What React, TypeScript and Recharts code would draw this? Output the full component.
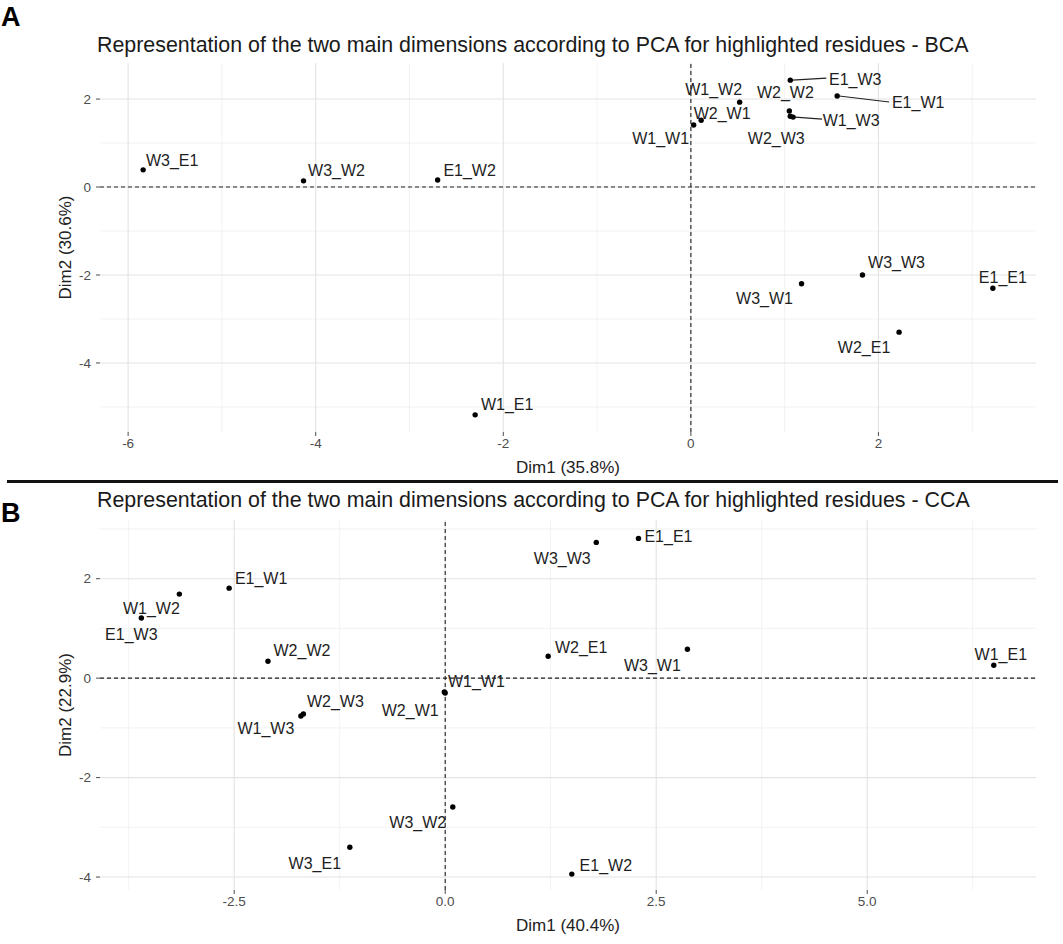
import React from 'react';
import { ScatterChart, Scatter, XAxis, YAxis, CartesianGrid, ReferenceLine } from 'recharts';

const FONT = '"Liberation Sans", Arial, Helvetica, sans-serif';

// Panel A - BCA
const bcaNames = ['W3_E1', 'W3_W2', 'E1_W2', 'W1_E1', 'W3_W1', 'W3_W3', 'E1_E1', 'W2_E1', 'E1_W3', 'E1_W1', 'W1_W2', 'W2_W1', 'W1_W1', 'W2_W2', 'W1_W3', 'W2_W3'];
const bcaDim1 = [-5.84, -4.13, -2.7, -2.3, 1.18, 1.83, 3.22, 2.22, 1.06, 1.56, 0.52, 0.11, 0.03, 1.05, 1.09, 1.06];
const bcaDim2 = [0.39, 0.14, 0.16, -5.18, -2.2, -2.0, -2.3, -3.3, 2.43, 2.07, 1.93, 1.52, 1.41, 1.73, 1.59, 1.61];
const bcaXTicks = [-6, -4, -2, 0, 2];
const bcaXMinor = [-5, -3, -1, 1, 3];
const bcaYTicks = [-4, -2, 0, 2];
const bcaYMinor = [-5, -3, -1, 1];

// Panel B - CCA
const ccaNames = ['E1_W1', 'W1_W2', 'E1_W3', 'W2_W2', 'W2_W3', 'W1_W3', 'W2_W1', 'W1_W1', 'W3_W3', 'E1_E1', 'W2_E1', 'W3_W1', 'W1_E1', 'W3_W2', 'W3_E1', 'E1_W2'];
const ccaDim1 = [-2.56, -3.15, -3.6, -2.1, -1.68, -1.71, 0.0, -0.01, 1.79, 2.29, 1.22, 2.87, 6.5, 0.09, -1.13, 1.5];
const ccaDim2 = [1.81, 1.69, 1.21, 0.34, -0.72, -0.76, -0.3, -0.28, 2.73, 2.81, 0.44, 0.58, 0.26, -2.59, -3.4, -3.94];
const ccaXTicks = [-2.5, 0, 2.5, 5];
const ccaXMinor = [-3.75, -1.25, 1.25, 3.75, 6.25];
const ccaYTicks = [-4, -2, 0, 2];
const ccaYMinor = [-3, -1, 1, 3];

// repel-style label nudges (label centre relative to point, px) and leader flags
const bcaNudge: Record<string, [number, number, boolean?]> = {
  W3_E1: [29, -9], W3_W2: [33, -10], E1_W2: [32, -9], W1_E1: [32, -10],
  W3_W1: [-37, 15], W3_W3: [34, -12], E1_E1: [10, -11], W2_E1: [-35, 15],
  E1_W3: [65, -1, true], E1_W1: [81, 7, true], W1_W2: [-26, -13], W2_W1: [21, -7],
  W1_W1: [-33, 13], W2_W2: [-4, -18], W1_W3: [58, 3, true], W2_W3: [-14, 22],
};
const ccaNudge: Record<string, [number, number, boolean?]> = {
  E1_W1: [32, -10], W1_W2: [-28, 14], E1_W3: [-10, 17], W2_W2: [34, -11],
  W2_W3: [32, -12], W1_W3: [-35, 13], W2_W1: [-35, 17], W1_W1: [32, -11],
  W3_W3: [-34, 16], E1_E1: [30, -2], W2_E1: [33, -9], W3_W1: [-35, 16],
  W1_E1: [7, -11], W3_W2: [-35, 16], W3_E1: [-35, 16], E1_W2: [34, -9],
};

const makeShape = (nudge: Record<string, [number, number, boolean?]>) => (props: any) => {
  const { cx, cy, payload } = props;
  const [dx, dy, leader] = nudge[payload.name] || [30, -10];
  return (
    <g>
      {leader && (
        <line x1={cx + 2} y1={cy} x2={cx + dx - 29} y2={cy + dy - 1} stroke="#222" strokeWidth={1.1} />
      )}
      <circle cx={cx} cy={cy} r={2.7} fill="#000" />
      <text
        x={cx + dx}
        y={cy + dy}
        textAnchor="middle"
        dominantBaseline="central"
        fontSize={16}
        fontFamily={FONT}
        fill="#1e1e1e"
      >
        {payload.name}
      </text>
    </g>
  );
};

const YTitle = ({ viewBox, value }: any) => {
  const x = viewBox.x + 15;
  const y = viewBox.y + viewBox.height / 2;
  return (
    <text x={x} y={y} transform={`rotate(-90 ${x} ${y})`} textAnchor="middle" dominantBaseline="central" fontSize={17} fontFamily={FONT} fill="#222">
      {value}
    </text>
  );
};

const XTitle = ({ viewBox, value }: any) => {
  const x = viewBox.x + viewBox.width / 2;
  const y = viewBox.y + 35;
  return (
    <text x={x} y={y} textAnchor="middle" dominantBaseline="central" fontSize={17} fontFamily={FONT} fill="#222">
      {value}
    </text>
  );
};

interface PanelProps {
  names: string[];
  dim1: number[];
  dim2: number[];
  nudge: Record<string, [number, number, boolean?]>;
  xDomain: [number, number];
  yDomain: [number, number];
  xTicks: number[];
  xMinor: number[];
  yTicks: number[];
  yMinor: number[];
  xFmt: (v: number) => string;
  xLabel: string;
  yLabel: string;
  height: number;
  marginTop: number;
  marginBottom: number;
}

const PcaPanel: React.FC<PanelProps> = (p) => {
  const data = p.names.map((name, i) => ({ name, x: p.dim1[i], y: p.dim2[i] }));
  const tickStyle = { fontSize: 13.5, fontFamily: FONT, fill: '#4d4d4d' };
  return (
    <ScatterChart
      width={1063}
      height={p.height}
      margin={{ top: p.marginTop, right: 27, bottom: p.marginBottom, left: 50 }}
    >
      <CartesianGrid stroke="#efefef" strokeWidth={0.8} horizontalValues={p.yMinor} verticalValues={p.xMinor} />
      <CartesianGrid stroke="#e3e3e3" strokeWidth={1.1} horizontalValues={p.yTicks} verticalValues={p.xTicks} />
      <XAxis
        type="number"
        dataKey="x"
        domain={p.xDomain}
        ticks={p.xTicks}
        tickFormatter={p.xFmt}
        allowDataOverflow
        axisLine={false}
        tickLine={{ stroke: '#4d4d4d' }}
        tickSize={4}
        tickMargin={2}
        height={40}
        tick={tickStyle}
        label={<XTitle value={p.xLabel} />}
      />
      <YAxis
        type="number"
        dataKey="y"
        domain={p.yDomain}
        ticks={p.yTicks}
        allowDataOverflow
        axisLine={false}
        tickLine={{ stroke: '#4d4d4d' }}
        tickSize={4}
        tickMargin={5}
        width={50}
        tick={tickStyle}
        label={<YTitle value={p.yLabel} />}
      />
      <ReferenceLine x={0} stroke="#222" strokeDasharray="4 3" strokeWidth={1.1} />
      <ReferenceLine y={0} stroke="#222" strokeDasharray="4 3" strokeWidth={1.1} />
      <Scatter data={data} dataKey="y" shape={makeShape(p.nudge)} isAnimationActive={false} />
    </ScatterChart>
  );
};

const titleStyle: React.CSSProperties = {
  position: 'absolute',
  left: 97,
  fontSize: 21.4,
  lineHeight: '22px',
  fontFamily: FONT,
  color: '#1a1a1a',
  whiteSpace: 'nowrap',
};

const panelLetter: React.CSSProperties = {
  position: 'absolute',
  left: 1,
  fontSize: 27,
  lineHeight: '28px',
  fontWeight: 'bold',
  fontFamily: FONT,
  color: '#000',
};

export default function App() {
  return (
    <div style={{ position: 'absolute', left: 0, top: 0, width: 1063, height: 944, background: '#fff', overflow: 'hidden' }}>
      <div style={{ position: 'absolute', left: 0, top: 0 }}>
        <PcaPanel
          names={bcaNames}
          dim1={bcaDim1}
          dim2={bcaDim2}
          nudge={bcaNudge}
          xDomain={[-6.3, 3.68]}
          yDomain={[-5.57, 2.82]}
          xTicks={bcaXTicks}
          xMinor={bcaXMinor}
          yTicks={bcaYTicks}
          yMinor={bcaYMinor}
          xFmt={(v) => String(v)}
          xLabel="Dim1 (35.8%)"
          yLabel="Dim2 (30.6%)"
          height={482}
          marginTop={63}
          marginBottom={10}
        />
      </div>
      <div style={{ ...panelLetter, top: 3 }}>A</div>
      <div style={{ ...titleStyle, top: 34 }}>
        Representation of the two main dimensions according to PCA for highlighted residues - BCA
      </div>

      <div style={{ position: 'absolute', left: 7, top: 480, width: 1051, height: 3, background: '#111' }} />

      <div style={{ position: 'absolute', left: 0, top: 482 }}>
        <PcaPanel
          names={ccaNames}
          dim1={ccaDim1}
          dim2={ccaDim2}
          nudge={ccaNudge}
          xDomain={[-4.09, 7.0]}
          yDomain={[-4.26, 3.18]}
          xTicks={ccaXTicks}
          xMinor={ccaXMinor}
          yTicks={ccaYTicks}
          yMinor={ccaYMinor}
          xFmt={(v) => v.toFixed(1)}
          xLabel="Dim1 (40.4%)"
          yLabel="Dim2 (22.9%)"
          height={462}
          marginTop={38}
          marginBottom={14}
        />
      </div>
      <div style={{ ...panelLetter, top: 499 }}>B</div>
      <div style={{ ...titleStyle, top: 489 }}>
        Representation of the two main dimensions according to PCA for highlighted residues - CCA
      </div>
    </div>
  );
}
